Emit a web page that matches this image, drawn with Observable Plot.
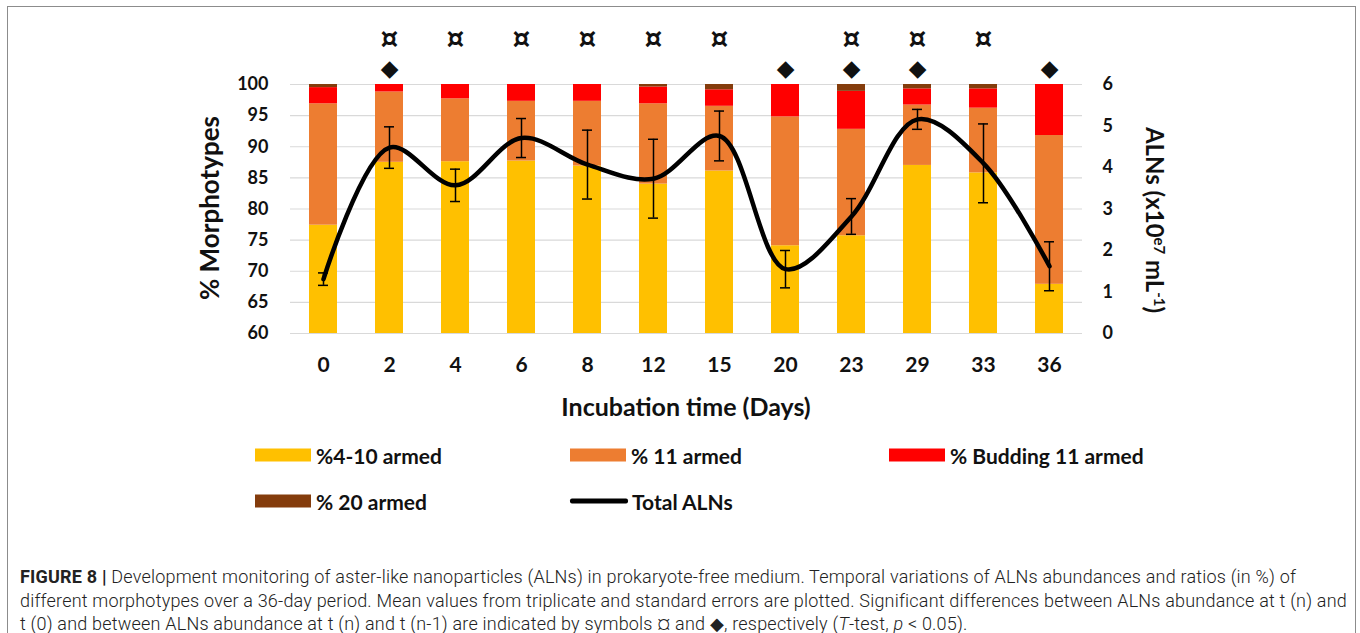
<!DOCTYPE html>
<html><head><meta charset="utf-8">
<script src="https://cdn.jsdelivr.net/npm/d3@7"></script>
<script src="https://cdn.jsdelivr.net/npm/@observablehq/plot@0.6"></script>
<style>
body{margin:0;background:#fff;width:1360px;height:633px;overflow:hidden;position:relative;font-family:Lato,"DejaVu Sans",sans-serif;color:#111}
#box{position:absolute;left:7px;top:6px;width:1347px;height:700px;border:1.5px solid #8c8c8c}
#chart{position:absolute;left:0;top:0}
.ttl{position:absolute;font-weight:700;white-space:nowrap;color:#111;transform-origin:center center}
.ttl sup{font-size:0.62em;vertical-align:0.55em;line-height:0}
.leg{position:absolute;display:flex;align-items:center;font-weight:700;font-size:21px;white-space:nowrap;transform:translateY(-50%)}
.sw{display:inline-block;width:56px;height:13px;margin-right:5px}
.ln{display:inline-block;width:58px;height:5px;background:#000;margin-right:4px;border-radius:2px}
#cap{position:absolute;left:20px;top:565px;font-family:Roboto,sans-serif;font-weight:300;font-size:18px;letter-spacing:0.2px;line-height:23.5px;color:#222;white-space:nowrap}
#cap b{font-weight:700;color:#222}
</style></head>
<body>
<div id="box"></div>
<div id="chart"></div>
<div class="ttl" id="ylab" style="left:209px;top:208px;font-size:26px;transform:translate(-50%,-50%) rotate(-90deg)">% Morphotypes</div>
<div class="ttl" id="y2lab" style="left:1155px;top:220px;font-size:24px;transform:translate(-50%,-50%) rotate(90deg)">ALNs (x10<sup>e7</sup> mL<sup>-1</sup>)</div>
<div class="ttl" id="xlab" style="left:686px;top:406px;font-size:25px;transform:translate(-50%,-50%)">Incubation time (Days)</div>
<div id="legend"></div>
<div id="cap"><b>FIGURE 8 |</b> Development monitoring of aster-like nanoparticles (ALNs) in prokaryote-free medium. Temporal variations of ALNs abundances and ratios (in %) of<br>different morphotypes over a 36-day period. Mean values from triplicate and standard errors are plotted. Significant differences between ALNs abundance at t (n) and<br>t (0) and between ALNs abundance at t (n) and t (n-1) are indicated by symbols ¤ and <span style="font-family:'DejaVu Sans'">◆</span>, respectively (<i>T</i>-test, <i>p</i> &lt; 0.05).</div>
<script>
// ---- data ----
const days = ["0","2","4","6","8","12","15","20","23","29","33","36"];
const pct4to10   = [77.4, 87.5, 87.6, 87.7, 86.9, 84.0, 86.1, 74.1, 75.7, 87.0, 85.8, 67.9];
const pct11      = [19.5, 11.3, 10.1,  9.6, 10.4, 12.9, 10.4, 20.7, 17.1,  9.7, 10.4, 23.9];
const pctBudding = [ 2.6,  1.2,  2.3,  2.7,  2.7,  2.7,  2.65, 5.2,  6.1,  2.6,  3.1,  8.2];
const pct20      = [ 0.5,  0.0,  0.0,  0.0,  0.0,  0.4,  0.85, 0.0,  1.1,  0.7,  0.7,  0.0];
const totalALNs  = [1.31, 4.48, 3.57, 4.71, 4.07, 3.73, 4.76, 1.55, 2.82, 5.16, 4.10, 1.62];
const totalSE    = [0.15, 0.50, 0.39, 0.47, 0.83, 0.95, 0.60, 0.45, 0.43, 0.24, 0.95, 0.59];
const sigVsT0    = ["2","4","6","8","12","15","23","29","33"];
const sigVsPrev  = ["2","20","23","29","36"];
const leftTicks  = [60,65,70,75,80,85,90,95,100];
const rightTicks = [0,1,2,3,4,5,6];
const seriesNames = ["%4-10 armed","% 11 armed","% Budding 11 armed","% 20 armed"];
const seriesColors = ["#FFC000","#ED7D31","#FF0000","#843C0C"];
const lineName = "Total ALNs";

// ---- build ----
const seriesVals = [pct4to10, pct11, pctBudding, pct20];
const stacked = seriesNames.flatMap((s,k)=>days.map((d,i)=>({day:d, series:s, value:seriesVals[k][i]})));
const L0 = leftTicks[0], L1 = leftTicks[leftTicks.length-1], R1 = rightTicks[rightTicks.length-1];
const toLeft = v => L0 + v*(L1-L0)/R1;
const line = days.map((d,i)=>({day:d, y:toLeft(totalALNs[i]), lo:toLeft(totalALNs[i]-totalSE[i]), hi:toLeft(totalALNs[i]+totalSE[i])}));

const chart = Plot.plot({
  width:1360, height:430,
  marginLeft:290, marginRight:278, marginTop:84, marginBottom:97,
  style:{fontFamily:"Lato, 'DejaVu Sans', sans-serif", fontWeight:"700", color:"#111", background:"transparent"},
  x:{type:"band", domain:days, paddingInner:0.58, paddingOuter:0.29, axis:null},
  y:{domain:[L0,L1], axis:null},
  color:{domain:seriesNames, range:seriesColors},
  marks:[
    Plot.gridY(leftTicks, {stroke:"#d9d9d9", strokeOpacity:1, strokeWidth:1.2}),
    Plot.barY(stacked, Plot.stackY({x:"day", y:"value", fill:"series", order:seriesNames, clip:true})),
    Plot.ruleX(line, {x:"day", y1:"lo", y2:"hi", stroke:"#000", strokeWidth:1.5}),
    Plot.tickY(line, {x:"day", y:"lo", stroke:"#000", strokeWidth:1.5, insetLeft:9, insetRight:9}),
    Plot.tickY(line, {x:"day", y:"hi", stroke:"#000", strokeWidth:1.5, insetLeft:9, insetRight:9}),
    Plot.line(line, {x:"day", y:"y", curve:"catmull-rom", stroke:"#000", strokeWidth:4.5}),
    Plot.axisY(leftTicks, {anchor:"left", tickSize:0, tickPadding:22, fontSize:18, label:null}),
    Plot.axisY(rightTicks.map(toLeft), {anchor:"right", tickSize:0, tickPadding:20, fontSize:18, label:null, tickFormat:(v,i)=>String(rightTicks[i])}),
    Plot.axisX({tickSize:0, tickPadding:24, fontSize:21, label:null}),
    Plot.text(sigVsT0, {x:d=>d, frameAnchor:"top", dy:-56, text:()=>"¤", fontSize:28, fontFamily:"DejaVu Sans", fontWeight:"bold"}),
    Plot.text(sigVsPrev, {x:d=>d, frameAnchor:"top", dy:-25, text:()=>"◆", fontSize:23, fontFamily:"DejaVu Sans"})
  ]
});
document.getElementById("chart").appendChild(chart);

// ---- legend ----
const legItems = [
  {label:seriesNames[0], color:seriesColors[0], left:255, top:455},
  {label:seriesNames[1], color:seriesColors[1], left:570, top:455},
  {label:seriesNames[2], color:seriesColors[2], left:889, top:455},
  {label:seriesNames[3], color:seriesColors[3], left:255, top:501},
  {label:lineName, color:null, left:570, top:501}
];
const leg = document.getElementById("legend");
for (const it of legItems) {
  const el = document.createElement("div");
  el.className = "leg";
  el.style.left = it.left + "px"; el.style.top = it.top + "px";
  const sw = document.createElement("span");
  if (it.color) { sw.className = "sw"; sw.style.background = it.color; } else sw.className = "ln";
  el.appendChild(sw);
  el.appendChild(document.createTextNode(it.label));
  leg.appendChild(el);
}
</script>
</body></html>
